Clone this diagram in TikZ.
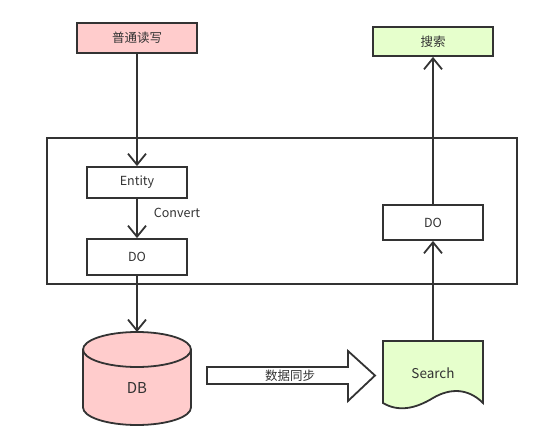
\documentclass[tikz,border=0pt]{standalone}
\usepackage{fontspec}
\setmainfont{Noto Sans CJK SC}
\usetikzlibrary{arrows.meta}
\definecolor{linegray}{HTML}{333333}
\definecolor{readpink}{HTML}{FFCCCC}
\definecolor{searchgreen}{HTML}{E6FFCC}
\begin{document}
\begin{tikzpicture}[x=1pt, y=-1pt, line width=1.8pt, draw=linegray,
	every node/.style={font=\fontsize{12.5}{14}\selectfont, text=linegray}]
	\tikzset{box/.style={draw, rectangle, inner sep=0pt, minimum width=100pt, minimum height=32pt}}
	\useasboundingbox (0,0) rectangle (543,443);
	\node[box, fill=readpink, minimum width=120pt, minimum height=30pt] (read) at (137,38) {普通读写};
	\node[box, fill=searchgreen, minimum width=120pt, minimum height=29pt] (query) at (433,41.5) {搜索};
	\draw (47,138) rectangle (517,284);
	\node[box, minimum height=31pt] (entity) at (137,182.5) {Entity};
	\node[box, minimum height=36pt] (dol) at (137,257) {DO};
	\node[box, minimum height=35pt] (dor) at (433,222.5) {DO};
	\node (convert) at (177,213) {Convert};
	\path[fill=readpink] (83,349.5) -- (83,407.5) arc[start angle=180, end angle=0, x radius=54, y radius=17.5] -- (191,349.5) -- cycle;
	\draw (83,349.5) -- (83,407.5) arc[start angle=180, end angle=0, x radius=54, y radius=17.5] -- (191,349.5);
	\draw[fill=readpink] (137,349.5) ellipse [x radius=54, y radius=17.5];
	\node[font=\fontsize{15}{17}\selectfont] (db) at (137,388) {DB};
	\coordinate (dbtop) at (137,332);
	\draw[fill=white] (207,367) -- (348,367) -- (348,351) -- (375,375.5) -- (348,401) -- (348,384) -- (207,384) -- cycle;
	\node (sync) at (290,376) {数据同步};
	\draw[fill=searchgreen] (383,341) -- (483,341) -- (483,403)
		.. controls (468,388) and (450,388) .. (433,398)
		.. controls (415,409) and (398,412) .. (383,403) -- cycle;
	\node[font=\fontsize{13.5}{15}\selectfont] (search) at (433,373) {Search};
	\coordinate (searchtop) at (433,341);
	\foreach \from/\to in {
		read/entity, entity/dol, dol/dbtop,
		searchtop/dor, dor/query}
	\draw[-{Straight Barb[length=11pt, width=18pt]}] (\from) -- (\to);
\end{tikzpicture}
\end{document}
